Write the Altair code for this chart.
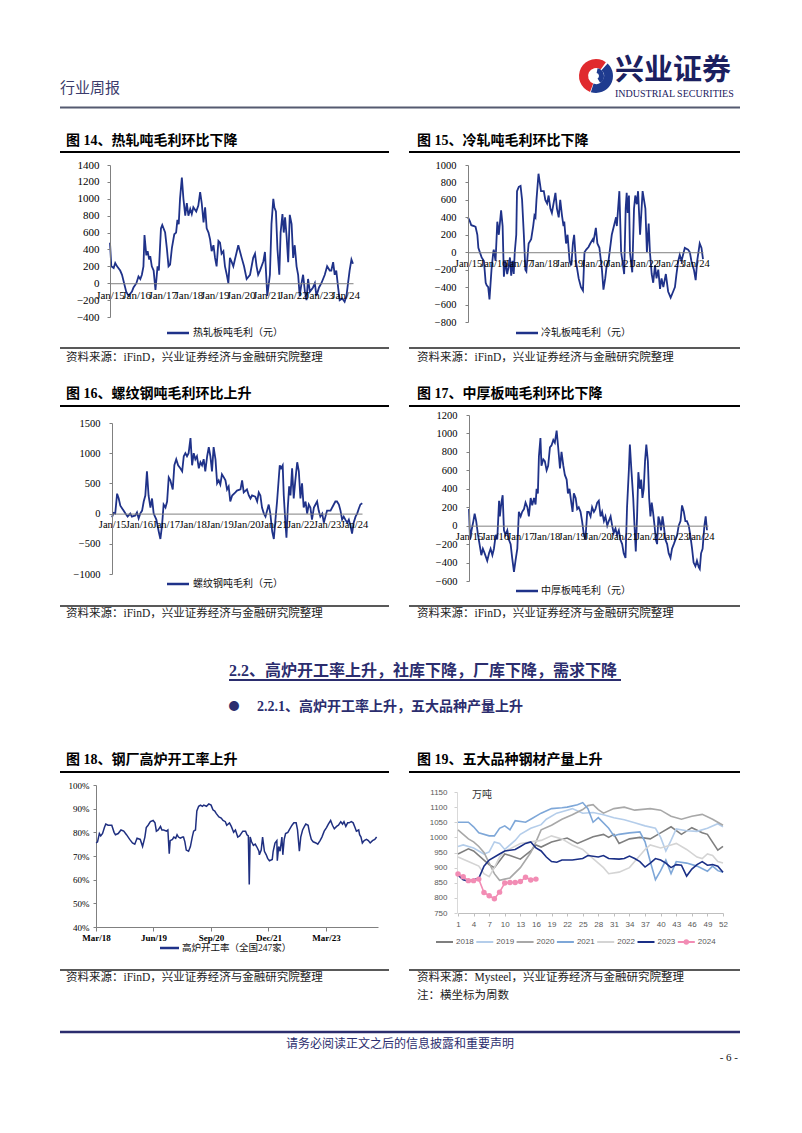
import altair as alt
import pandas as pd

# ---------------- data ----------------
hot_rolled = [(2015.00, 480), (2015.05, 200), (2015.14, 180), (2015.20, 240), (2015.27, 200), (2015.39, 150),
              (2015.46, 100), (2015.62, -100), (2015.71, -150), (2015.84, -100), (2015.90, -50), (2016.01, 0),
              (2016.09, 80), (2016.16, 50), (2016.22, 100), (2016.28, 200), (2016.32, 570), (2016.39, 330),
              (2016.44, 380), (2016.50, 280), (2016.54, 320), (2016.60, 200), (2016.67, 150), (2016.74, -80),
              (2016.82, 200), (2016.87, 150), (2016.95, 650), (2017.00, 690), (2017.11, 600), (2017.18, 400),
              (2017.24, 200), (2017.30, 220), (2017.37, 420), (2017.46, 580), (2017.53, 600), (2017.58, 750),
              (2017.63, 700), (2017.68, 1000), (2017.75, 1250), (2017.81, 1000), (2017.88, 800), (2017.94, 950),
              (2018.00, 800), (2018.07, 880), (2018.13, 820), (2018.19, 900), (2018.30, 850), (2018.38, 920),
              (2018.45, 1080), (2018.51, 950), (2018.58, 720), (2018.64, 900), (2018.70, 650), (2018.77, 600),
              (2018.83, 520), (2018.89, 380), (2018.96, 450), (2019.02, 300), (2019.08, 200), (2019.15, 500),
              (2019.21, 480), (2019.27, 350), (2019.34, 380), (2019.40, 200), (2019.47, 100), (2019.53, 0),
              (2019.59, 300), (2019.66, 250), (2019.72, 200), (2019.78, 280), (2019.91, 450), (2020.04, 300),
              (2020.13, 200), (2020.23, 50), (2020.36, 100), (2020.48, 300), (2020.55, 350), (2020.61, 200),
              (2020.67, 100), (2020.74, 150), (2020.87, 260), (2020.93, 370), (2021.02, -150), (2021.12, 100),
              (2021.18, 700), (2021.25, 1000), (2021.29, 900), (2021.35, 850), (2021.41, 400), (2021.48, 100),
              (2021.53, 600), (2021.60, 820), (2021.65, 600), (2021.70, 780), (2021.76, 550), (2021.82, 250),
              (2021.88, 810), (2021.95, 700), (2022.01, 300), (2022.07, 450), (2022.14, 200), (2022.20, 100),
              (2022.26, -150), (2022.33, 0), (2022.39, 100), (2022.46, -100), (2022.52, -200), (2022.58, 50),
              (2022.65, -100), (2022.77, -50), (2022.84, 0), (2022.90, -150), (2023.00, -50), (2023.09, 0),
              (2023.22, 100), (2023.31, 200), (2023.41, 150), (2023.47, 150), (2023.54, 250), (2023.60, 100),
              (2023.66, 150), (2023.73, -50), (2023.79, -200), (2023.89, -180), (2023.98, -220), (2024.05, -150),
              (2024.11, 0), (2024.17, 150), (2024.24, 280), (2024.30, 230)]

cold_rolled = [(2015.00, 400), (2015.08, 350), (2015.13, 310), (2015.24, 300), (2015.30, 290), (2015.37, 200),
               (2015.41, 50), (2015.47, 0), (2015.54, -60), (2015.63, -100), (2015.70, -350), (2015.74, -380),
               (2015.80, -400), (2015.85, -540), (2015.93, -200), (2016.00, 0), (2016.02, 30), (2016.09, -100),
               (2016.16, 350), (2016.22, 200), (2016.31, 480), (2016.37, 300), (2016.42, -280), (2016.48, -100),
               (2016.55, -250), (2016.62, -150), (2016.66, -60), (2016.71, -270), (2016.76, -100), (2016.81, -250),
               (2016.85, 0), (2016.91, 200), (2016.94, 700), (2017.01, 750), (2017.08, 760), (2017.14, 600),
               (2017.21, 200), (2017.27, -200), (2017.31, -220), (2017.37, 0), (2017.40, 100), (2017.50, 150),
               (2017.58, 300), (2017.63, 420), (2017.67, 400), (2017.71, 600), (2017.79, 900), (2017.84, 800),
               (2017.89, 700), (2018.00, 700), (2018.06, 600), (2018.13, 560), (2018.19, 650), (2018.26, 500),
               (2018.32, 450), (2018.46, 680), (2018.52, 500), (2018.59, 400), (2018.65, 600), (2018.72, 420),
               (2018.78, 300), (2018.81, 350), (2018.88, 100), (2018.94, 200), (2019.02, -100), (2019.09, -150),
               (2019.15, 100), (2019.20, 200), (2019.27, -100), (2019.38, -300), (2019.47, -400), (2019.55, -440),
               (2019.61, 0), (2019.68, 30), (2019.77, 60), (2019.84, 100), (2019.94, 150), (2019.97, 130),
               (2020.06, 280), (2020.12, 100), (2020.20, 50), (2020.30, -200), (2020.36, -430), (2020.43, -300),
               (2020.49, -150), (2020.56, -100), (2020.69, 200), (2020.86, 400), (2020.89, 300), (2020.99, 700),
               (2021.06, 0), (2021.11, -100), (2021.18, -250), (2021.24, 500), (2021.28, 680), (2021.32, 450),
               (2021.37, 650), (2021.41, 0), (2021.50, -230), (2021.57, 500), (2021.62, 650), (2021.68, 550),
               (2021.73, 700), (2021.81, 200), (2021.91, 700), (2022.02, 500), (2022.08, 0), (2022.15, 330),
               (2022.20, 0), (2022.27, -250), (2022.33, -350), (2022.40, -150), (2022.46, -300), (2022.53, -200),
               (2022.60, -420), (2022.66, -300), (2022.73, -400), (2022.83, -250), (2022.92, -450), (2023.02, -520),
               (2023.12, -450), (2023.19, -400), (2023.25, -250), (2023.32, -100), (2023.38, -30), (2023.45, -100),
               (2023.58, 50), (2023.71, 30), (2023.78, 0), (2023.84, -100), (2023.94, -200), (2024.01, -320),
               (2024.07, -100), (2024.17, 100), (2024.24, 50), (2024.30, -80)]

rebar = [(2015.00, -60), (2015.06, 10), (2015.12, 0), (2015.19, 330), (2015.25, 250), (2015.31, 130),
         (2015.43, 50), (2015.50, 0), (2015.58, -50), (2015.68, 0), (2015.74, -50), (2015.87, -30),
         (2015.93, 20), (2015.99, -80), (2016.05, 0), (2016.12, 50), (2016.18, 200), (2016.24, 300),
         (2016.30, 700), (2016.36, 300), (2016.43, 100), (2016.49, 250), (2016.55, 0), (2016.65, -100),
         (2016.74, -300), (2016.80, -420), (2016.86, -200), (2016.92, 150), (2016.99, 100), (2017.05, 200),
         (2017.11, 600), (2017.17, 550), (2017.26, 400), (2017.32, 800), (2017.39, 900), (2017.46, 800),
         (2017.54, 750), (2017.61, 700), (2017.67, 950), (2017.73, 1000), (2017.79, 950), (2017.85, 1000),
         (2017.92, 1250), (2017.98, 800), (2018.04, 1000), (2018.10, 900), (2018.16, 950), (2018.23, 750),
         (2018.29, 850), (2018.35, 800), (2018.41, 900), (2018.47, 700), (2018.54, 950), (2018.60, 1100),
         (2018.66, 950), (2018.72, 700), (2018.78, 1100), (2018.85, 900), (2018.91, 500), (2018.97, 550),
         (2019.03, 480), (2019.09, 650), (2019.16, 600), (2019.22, 550), (2019.28, 400), (2019.34, 450),
         (2019.40, 200), (2019.47, 300), (2019.59, 350), (2019.65, 380), (2019.78, 400), (2019.84, 550),
         (2019.90, 350), (2020.02, 400), (2020.09, 300), (2020.15, 250), (2020.21, 300), (2020.33, 280),
         (2020.40, 200), (2020.46, 350), (2020.52, 300), (2020.58, 100), (2020.65, 0), (2020.71, -50),
         (2020.77, 50), (2020.83, 150), (2020.89, 0), (2020.96, -300), (2021.02, -420), (2021.08, -100),
         (2021.14, 200), (2021.24, 800), (2021.29, 750), (2021.35, 800), (2021.39, 300), (2021.45, -150),
         (2021.49, -400), (2021.54, 100), (2021.59, 450), (2021.64, 300), (2021.70, 750), (2021.76, 250),
         (2021.82, 550), (2021.89, 850), (2021.95, 700), (2022.01, 250), (2022.07, 500), (2022.13, 100),
         (2022.20, 200), (2022.26, 0), (2022.32, 150), (2022.38, 100), (2022.44, -100), (2022.51, 100),
         (2022.57, 150), (2022.63, 200), (2022.69, 50), (2022.75, -50), (2022.82, 0), (2022.88, -150),
         (2022.94, -50), (2023.00, 50), (2023.13, 50), (2023.25, 150), (2023.31, 200), (2023.37, 200),
         (2023.44, 150), (2023.50, 50), (2023.56, -100), (2023.62, -50), (2023.68, -100), (2023.75, -150),
         (2023.81, -100), (2023.87, -200), (2023.93, -330), (2023.99, -150), (2024.06, -50), (2024.12, 0),
         (2024.18, 80), (2024.24, 150), (2024.31, 170)]

plate = [(2015.00, 180), (2015.04, -150), (2015.10, -50), (2015.17, 50), (2015.22, 130), (2015.28, 50),
         (2015.35, -100), (2015.41, -200), (2015.48, -320), (2015.54, -250), (2015.61, -300), (2015.71, -380),
         (2015.78, -300), (2015.84, -250), (2015.91, -320), (2015.97, -250), (2016.04, -100), (2016.10, -150),
         (2016.17, 270), (2016.20, 100), (2016.26, 250), (2016.31, 330), (2016.36, -50), (2016.42, -100),
         (2016.49, -50), (2016.55, -150), (2016.62, -200), (2016.68, -350), (2016.75, -500), (2016.81, -380),
         (2016.88, -250), (2016.94, 150), (2017.01, 100), (2017.07, 150), (2017.14, 180), (2017.20, 250),
         (2017.27, 200), (2017.33, 100), (2017.40, 300), (2017.46, 220), (2017.53, 300), (2017.59, 230),
         (2017.63, 400), (2017.68, 350), (2017.72, 750), (2017.78, 950), (2017.82, 650), (2017.89, 720),
         (2017.95, 700), (2018.02, 600), (2018.08, 650), (2018.15, 850), (2018.21, 870), (2018.28, 930),
         (2018.34, 900), (2018.41, 1030), (2018.47, 850), (2018.54, 620), (2018.60, 800), (2018.67, 650),
         (2018.73, 550), (2018.80, 500), (2018.85, 350), (2018.91, 400), (2018.98, 250), (2019.03, 150),
         (2019.08, 350), (2019.15, 300), (2019.21, 180), (2019.27, 200), (2019.34, 150), (2019.40, 50),
         (2019.47, -100), (2019.53, -150), (2019.60, 150), (2019.66, 150), (2019.73, 100), (2019.79, 200),
         (2019.86, 150), (2019.92, 180), (2019.99, 250), (2020.05, 270), (2020.12, 100), (2020.18, 150),
         (2020.25, 50), (2020.31, 100), (2020.38, 0), (2020.44, 50), (2020.51, 100), (2020.57, 0),
         (2020.63, -80), (2020.70, -30), (2020.76, -100), (2020.83, -50), (2020.89, -150), (2020.96, -200),
         (2021.02, -300), (2021.09, -350), (2021.15, 200), (2021.22, 600), (2021.26, 880), (2021.32, 600),
         (2021.39, 300), (2021.44, 0), (2021.49, -280), (2021.54, 100), (2021.59, 580), (2021.65, 400),
         (2021.70, 500), (2021.75, 300), (2021.80, 400), (2021.85, 700), (2021.90, 880), (2021.96, 700),
         (2022.01, 300), (2022.06, 100), (2022.11, 250), (2022.16, 150), (2022.22, 0), (2022.27, -150),
         (2022.32, -200), (2022.37, 100), (2022.42, 50), (2022.47, -50), (2022.53, 100), (2022.58, 0),
         (2022.64, -150), (2022.71, -200), (2022.77, -300), (2022.84, -350), (2022.90, -250), (2022.97, -200),
         (2023.10, -100), (2023.16, 0), (2023.23, 50), (2023.29, 220), (2023.36, 150), (2023.42, 50),
         (2023.48, 50), (2023.55, 0), (2023.61, -100), (2023.68, -250), (2023.74, -400), (2023.81, -440),
         (2023.87, -380), (2023.94, -450), (2023.98, -470), (2024.03, -300), (2024.09, -250), (2024.16, 0),
         (2024.21, 100), (2024.26, -50)]

furnace = [(2018.17, 75.5), (2018.20, 76), (2018.24, 79.5), (2018.27, 78.5), (2018.31, 79.5), (2018.35, 82),
           (2018.38, 83.5), (2018.43, 83), (2018.51, 83), (2018.56, 80), (2018.59, 79), (2018.65, 79.5),
           (2018.71, 81), (2018.77, 80.5), (2018.83, 79), (2018.90, 77), (2018.96, 75.5), (2019.01, 75),
           (2019.06, 77.5), (2019.13, 77), (2019.18, 74), (2019.23, 78), (2019.26, 82), (2019.30, 83),
           (2019.35, 84.5), (2019.41, 85), (2019.45, 84), (2019.48, 80.5), (2019.52, 81), (2019.57, 82.5),
           (2019.60, 81), (2019.64, 81), (2019.70, 80.5), (2019.73, 81), (2019.76, 71), (2019.78, 76.5),
           (2019.83, 77), (2019.86, 78), (2019.90, 77.5), (2019.93, 79), (2019.96, 78), (2020.00, 77.5),
           (2020.05, 78), (2020.07, 78), (2020.10, 76), (2020.13, 72.5), (2020.18, 72), (2020.22, 74),
           (2020.26, 78), (2020.29, 80.5), (2020.33, 81), (2020.36, 89), (2020.40, 91), (2020.44, 91.5),
           (2020.48, 91), (2020.51, 91.5), (2020.57, 91), (2020.62, 92), (2020.67, 91.5), (2020.71, 89.5),
           (2020.75, 89), (2020.78, 88), (2020.84, 86.5), (2020.89, 86), (2020.93, 85), (2020.98, 84.5),
           (2021.01, 83), (2021.07, 84), (2021.11, 82.5), (2021.16, 80), (2021.20, 81), (2021.25, 78),
           (2021.29, 78.5), (2021.36, 80.5), (2021.42, 80.5), (2021.45, 79), (2021.48, 78.5), (2021.50, 58),
           (2021.52, 78), (2021.55, 76), (2021.59, 74.5), (2021.63, 75), (2021.66, 74), (2021.71, 72),
           (2021.72, 70.5), (2021.76, 72.5), (2021.79, 78), (2021.83, 72), (2021.87, 70.5), (2021.90, 69),
           (2021.94, 68), (2022.00, 68.5), (2022.02, 72), (2022.06, 75.5), (2022.10, 76.5), (2022.11, 68),
           (2022.14, 74), (2022.17, 72), (2022.21, 78), (2022.23, 70.5), (2022.26, 77), (2022.29, 79.5),
           (2022.34, 80), (2022.37, 81), (2022.43, 83), (2022.47, 84), (2022.52, 84), (2022.55, 81),
           (2022.59, 72), (2022.62, 78), (2022.66, 81), (2022.70, 82.5), (2022.73, 83.5), (2022.78, 83),
           (2022.81, 80), (2022.85, 77), (2022.89, 76), (2022.95, 75.5), (2022.99, 75), (2023.04, 76.5),
           (2023.08, 78), (2023.13, 80.5), (2023.18, 82), (2023.22, 83.5), (2023.27, 85), (2023.31, 83),
           (2023.35, 81.5), (2023.40, 82.5), (2023.44, 83), (2023.49, 84.5), (2023.53, 83.5), (2023.56, 84.5),
           (2023.60, 82.5), (2023.64, 84), (2023.67, 84), (2023.72, 84.5), (2023.76, 84), (2023.80, 82),
           (2023.83, 80.5), (2023.88, 81), (2023.90, 79), (2023.93, 78), (2023.96, 75.5), (2024.00, 76.5),
           (2024.05, 77), (2024.09, 76.5), (2024.13, 75.5), (2024.18, 76.5), (2024.23, 77), (2024.27, 78)]

w2018 = [(1, 945), (3, 962), (4, 955), (6, 925), (7, 910), (8, 900), (10, 945), (11, 940), (13, 928), (15, 955),
         (16, 975), (17, 968), (19, 985), (22, 998), (24, 980), (27, 1002), (29, 1010), (30, 1000), (31, 1010),
         (32, 980), (34, 995), (36, 1000), (38, 995), (40, 1015), (42, 1035), (44, 1010), (46, 1032), (48, 1015),
         (49, 1010), (51, 958), (52, 970)]
w2019 = [(1, 970), (2, 975), (4, 965), (6, 945), (7, 952), (8, 985), (9, 980), (10, 960), (12, 990), (13, 1010),
         (15, 1030), (17, 1042), (18, 1060), (20, 1080), (22, 1090), (23, 1095), (25, 1080), (27, 1082), (29, 1075),
         (31, 1065), (33, 1058), (35, 1048), (37, 1038), (39, 1030), (40, 1000), (41, 955), (42, 990), (43, 1028),
         (45, 1022), (47, 1020), (49, 1030), (51, 1045), (52, 1035)]
w2020 = [(1, 1025), (3, 995), (4, 985), (5, 970), (6, 950), (7, 915), (8, 880), (9, 858), (10, 862), (11, 866),
         (13, 900), (15, 950), (16, 985), (17, 1025), (19, 1040), (21, 1060), (23, 1075), (25, 1092), (26, 1105),
         (27, 1108), (28, 1092), (29, 1080), (31, 1095), (33, 1100), (35, 1090), (38, 1095), (40, 1090), (42, 1070),
         (44, 1060), (46, 1070), (48, 1076), (50, 1060), (52, 1040)]
w2021 = [(1, 1050), (3, 1050), (4, 1035), (5, 1015), (7, 1005), (8, 1005), (9, 1030), (10, 1038), (11, 1025),
         (12, 1055), (14, 1050), (15, 1060), (17, 1080), (19, 1095), (21, 1098), (22, 1100), (24, 1108), (25, 1115),
         (26, 1095), (27, 1050), (28, 1065), (30, 1030), (31, 1005), (32, 1010), (34, 1015), (36, 1018), (37, 985),
         (38, 920), (39, 860), (40, 890), (41, 925), (42, 880), (43, 920), (45, 915), (47, 905), (49, 888),
         (50, 905), (51, 890), (52, 885)]
w2022 = [(1, 935), (3, 920), (5, 905), (6, 880), (7, 870), (8, 900), (9, 935), (10, 955), (11, 962), (13, 980),
         (15, 985), (17, 990), (19, 1005), (21, 995), (23, 975), (25, 960), (27, 930), (29, 900), (30, 880),
         (32, 885), (34, 900), (35, 920), (37, 960), (38, 975), (40, 965), (42, 975), (43, 980), (45, 960),
         (47, 935), (48, 930), (49, 945), (50, 940), (51, 920), (52, 915)]
w2023 = [(1, 875), (2, 860), (3, 855), (5, 865), (6, 905), (7, 925), (9, 945), (10, 955), (12, 960), (13, 970),
         (14, 980), (15, 985), (16, 965), (17, 955), (18, 935), (19, 920), (20, 918), (21, 925), (23, 925),
         (25, 930), (26, 940), (28, 935), (29, 940), (30, 930), (32, 928), (33, 930), (34, 938), (35, 930),
         (36, 920), (37, 902), (38, 915), (39, 930), (40, 925), (41, 915), (42, 900), (43, 910), (44, 908),
         (45, 872), (46, 895), (47, 910), (48, 920), (49, 908), (50, 910), (51, 905), (52, 885)]
w2024 = [(1, 879), (2, 870), (3, 857), (4, 857), (5, 862), (6, 818), (7, 807), (8, 797), (9, 819), (10, 849),
         (11, 851), (12, 851), (13, 854), (14, 868), (15, 859), (16, 862)]

years = ['2018', '2019', '2020', '2021', '2022', '2023', '2024']
year_series = [w2018, w2019, w2020, w2021, w2022, w2023, w2024]
year_colors = ['#7f7f7f', '#b4cdea', '#a8a8a8', '#7ea7d8', '#d4d4d4', '#1a2f86', '#f28cb4']
year_widths = [1.6, 1.6, 1.6, 1.6, 1.6, 2.0, 1.6]

profit_ticks = list(range(2015, 2025))
bf_tick_vals = [2018.167, 2019.417, 2020.667, 2021.917, 2023.167]
bf_tick_labels = ['Mar/18', 'Jun/19', 'Sep/20', 'Dec/21', 'Mar/23']
week_ticks = list(range(1, 53, 3))

# ---------------- style ----------------
SERIF = 'Liberation Serif'
SANS = 'Liberation Sans'
CJK = 'Noto Sans CJK SC'
MIX = "'Liberation Serif', 'Noto Sans CJK SC'"
NAVY = '#1f3289'
DEEP = '#2b2d6e'
AXC = '#808080'
one = pd.DataFrame({'d': [0]})

# origin of the first cell (page coordinates) for page decorations
OX, OY = 96, 165


def T(text, x, y, size, weight='normal', color='#111111', align='left', font=MIX):
    return alt.Chart(one).mark_text(text=text, align=align, baseline='middle', fontSize=size,
                                    fontWeight=weight, color=color, font=font).encode(
        x=alt.value(x - OX), y=alt.value(y - OY))


def R(x1, x2, y, color, w):
    return alt.Chart(one).mark_rule(color=color, strokeWidth=w).encode(
        x=alt.value(x1 - OX), x2=alt.value(x2 - OX), y=alt.value(y - OY))


def profit_chart(pairs, xr, yr, ydom, ystep, w, h, fs, lpad):
    df = pd.DataFrame(pairs, columns=['t', 'v'])
    zero_px = yr[0] + (0 - ydom[0]) / (ydom[1] - ydom[0]) * (yr[1] - yr[0])
    xaxis = alt.Axis(values=profit_ticks, labelExpr="'Jan/' + (datum.value - 2000)", offset=zero_px - h,
                     domainColor=AXC, domainWidth=1, ticks=False, labelFlush=False, labelOverlap=False,
                     labelPadding=6, labelFont=SERIF, labelFontSize=fs, labelColor='#000', grid=False,
                     title=None, zindex=1)
    yaxis = alt.Axis(values=list(range(ydom[0], ydom[1] + 1, ystep)), format='d', offset=-xr[0],
                     domainColor=AXC, domainWidth=1, tickColor=AXC, tickSize=3, labelPadding=lpad,
                     labelFont=SERIF, labelFontSize=fs, labelColor='#000', labelFlush=False,
                     labelOverlap=False, grid=False, title=None, zindex=1)
    return alt.Chart(df).mark_line(color=NAVY, strokeWidth=1.8).encode(
        x=alt.X('t:Q', scale=alt.Scale(domain=[2015, 2024.3], range=xr, nice=False, zero=False), axis=xaxis),
        y=alt.Y('v:Q', scale=alt.Scale(domain=list(ydom), range=yr, nice=False, zero=False), axis=yaxis))


SRC = '资料来源：iFinD，兴业证券经济与金融研究院整理'

deco = [
    alt.Chart(one).mark_rect(color='white').encode(
        x=alt.value(8 - OX), x2=alt.value(790 - OX), y=alt.value(8 - OY), y2=alt.value(1120 - OY)),
    # header
    T('行业周报', 60, 88, 15, color='#3b3b6b', font=CJK),
    alt.Chart(one).mark_arc(theta=3.5, theta2=6.9, radius=17, radius2=8, color='#e02a2e').encode(
        x=alt.value(596 - OX), y=alt.value(76 - OY)),
    alt.Chart(one).mark_arc(theta=0.75, theta2=3.45, radius=17, radius2=8, color='#1f3b8f').encode(
        x=alt.value(596 - OX), y=alt.value(76 - OY)),
    alt.Chart(one).mark_arc(theta=0.2, theta2=2.6, radius=8, radius2=3, color='#1f3b8f').encode(
        x=alt.value(596 - OX), y=alt.value(76 - OY)),
    T('兴业证券', 615, 71, 29, weight='bold', color='#1b2060', font=CJK),
    T('INDUSTRIAL SECURITIES', 615, 94, 10, color='#1b2060', font=SERIF),
    R(60, 740, 107.5, '#555a70', 2),
    # row 1
    T('图 14、热轧吨毛利环比下降', 66, 141, 14, weight='bold', color='#000'),
    T('图 15、冷轧吨毛利环比下降', 417, 141, 14, weight='bold', color='#000'),
    R(60, 389, 152, '#000', 2), R(409, 740, 152, '#000', 2),
    R(167, 189, 333, NAVY, 2.5), T('热轧板吨毛利（元）', 193, 333, 10),
    R(516, 538, 333, NAVY, 2.5), T('冷轧板吨毛利（元）', 541, 333, 10),
    R(60, 389, 348, '#222', 1.5), R(409, 740, 348, '#222', 1.5),
    T(SRC, 66, 358, 11.5, color='#222'), T(SRC, 417, 358, 11.5, color='#222'),
    # row 2
    T('图 16、螺纹钢吨毛利环比上升', 66, 394, 14, weight='bold', color='#000'),
    T('图 17、中厚板吨毛利环比下降', 417, 394, 14, weight='bold', color='#000'),
    R(60, 389, 406, '#000', 2), R(409, 740, 406, '#000', 2),
    R(167, 189, 584, NAVY, 2.5), T('螺纹钢吨毛利（元）', 193, 584, 10),
    R(516, 538, 591, NAVY, 2.5), T('中厚板吨毛利（元）', 541, 591, 10),
    R(60, 389, 606, '#222', 1.5), R(409, 740, 606, '#222', 1.5),
    T(SRC, 66, 614, 11.5, color='#222'), T(SRC, 417, 614, 11.5, color='#222'),
    # section
    T('2.2、高炉开工率上升，社库下降，厂库下降，需求下降', 229, 671, 16, weight='bold', color=DEEP),
    R(229, 621, 680, DEEP, 2),
    T('●', 234, 707, 11, color=DEEP, align='center', font=CJK),
    T('2.2.1、高炉开工率上升，五大品种产量上升', 257, 707, 14, weight='bold', color=DEEP),
    # row 3
    T('图 18、钢厂高炉开工率上升', 66, 760, 14, weight='bold', color='#000'),
    T('图 19、五大品种钢材产量上升', 417, 760, 14, weight='bold', color='#000'),
    R(60, 389, 772, '#000', 2), R(409, 740, 772, '#000', 2),
    R(160, 179, 948, NAVY, 2.5), T('高炉开工率（全国247家）', 182, 948, 9.5),
    T('万吨', 472, 795, 10, color='#333', font=CJK),
    R(60, 389, 970, '#222', 1.5), R(409, 740, 970, '#222', 1.5),
    T(SRC, 66, 978, 11.5, color='#222'),
    T('资料来源：Mysteel，兴业证券经济与金融研究院整理', 417, 978, 11.5, color='#222'),
    T('注：横坐标为周数', 417, 996, 11.5, color='#222'),
    # footer
    R(60, 740, 1032, DEEP, 2.5),
    T('请务必阅读正文之后的信息披露和重要声明', 400, 1044, 12, color=DEEP, align='center', font=CJK),
    T('- 6 -', 738, 1058, 11, align='right', font=SERIF),
]

# fig 19 legend
for i, (yr, col) in enumerate(zip(years, year_colors)):
    sx = 456 + 40.3 * i
    deco.append(R(sx - 20, sx - 3, 942, col, 2))
    deco.append(T(yr, sx, 942, 8, color='#595959', font=SANS))
    if yr == '2024':
        deco.append(alt.Chart(one).mark_point(filled=True, size=30, color=col, opacity=1).encode(
            x=alt.value(sx - 11.5 - OX), y=alt.value(942 - OY)))

# ---------------- cells ----------------
c14 = alt.layer(deco[0], profit_chart(hot_rolled, [14, 257], [152, 0], (-400, 1400), 200, 282, 157, 11, 8),
                *deco[1:]).properties(width=282, height=157)
c15 = profit_chart(cold_rolled, [11, 246], [157, 0], (-800, 1000), 200, 266, 157, 10.5, 9).properties(
    width=266, height=157)
c16 = profit_chart(rebar, [16, 266], [159, 8], (-1000, 1500), 500, 282, 277, 10.5, 9).properties(
    width=282, height=277)
c17 = profit_chart(plate, [12, 251], [166, 0], (-600, 1200), 200, 266, 277, 10.5, 9).properties(
    width=266, height=277)

bf_expr = ''.join("abs(datum.value - %s) < 0.01 ? '%s' : " % (v, l) for v, l in zip(bf_tick_vals, bf_tick_labels)) + "''"
c18 = alt.Chart(pd.DataFrame(furnace, columns=['t', 'v'])).mark_line(color='#1f2f80', strokeWidth=1.5).encode(
    x=alt.X('t:Q', scale=alt.Scale(domain=[2018.167, 2024.3], nice=False, zero=False),
            axis=alt.Axis(values=bf_tick_vals, labelExpr=bf_expr, tickSize=4, tickColor=AXC, domainColor=AXC,
                          labelFont=SERIF, labelFontSize=9, labelFontWeight='bold', labelPadding=2,
                          labelFlush=False, labelOverlap=False, labelColor='#000', grid=False, title=None)),
    y=alt.Y('v:Q', scale=alt.Scale(domain=[40, 100], nice=False, zero=False),
            axis=alt.Axis(values=list(range(40, 101, 10)), labelExpr="datum.value + '%'", tickSize=3,
                          tickColor=AXC, domainColor=AXC, labelPadding=4, labelFont=SERIF, labelFontSize=9,
                          labelColor='#000', labelFlush=False, grid=False, title=None))
).properties(width=282, height=142)

rows19 = []
for yr, pts in zip(years, year_series):
    for wk, val in pts:
        rows19.append({'year': yr, 'w': wk, 'v': val})
df19 = pd.DataFrame(rows19)
x19 = alt.X('w:Q', scale=alt.Scale(domain=[1, 52], range=[1, 266], nice=False, zero=False),
            axis=alt.Axis(values=week_ticks, tickSize=3, tickColor='#bfbfbf', domainColor='#bfbfbf',
                          labelFont=SANS, labelFontSize=8, labelColor='#595959', labelPadding=4,
                          labelFlush=False, labelOverlap=False, grid=False, title=None))
y19 = alt.Y('v:Q', scale=alt.Scale(domain=[750, 1150], range=[128, 7], nice=False, zero=False),
            axis=alt.Axis(values=list(range(750, 1151, 50)), format='d', tickSize=3, tickColor='#d0d0d0',
                          domainColor='#d9d9d9', labelFont=SANS, labelFontSize=8, labelColor='#595959',
                          labelPadding=7, labelFlush=False, labelOverlap=False, grid=False, title=None))
lines19 = alt.Chart(df19).transform_filter("datum.year != '2024'").mark_line().encode(
    x=x19, y=y19,
    color=alt.Color('year:N', scale=alt.Scale(domain=years, range=year_colors), legend=None),
    strokeWidth=alt.StrokeWidth('year:N', scale=alt.Scale(domain=years, range=year_widths), legend=None))
pink19 = alt.Chart(df19).transform_filter("datum.year == '2024'").mark_line(
    color=year_colors[-1], strokeWidth=1.6,
    point=alt.OverlayMarkDef(filled=True, size=30, color=year_colors[-1])).encode(x=x19, y=y19)
c19 = alt.layer(lines19, pink19).properties(width=266, height=128)

chart = alt.concat(c14, c15, c16, c17, c18, c19, columns=2, bounds='flush',
                   spacing={'row': 93, 'column': 79}).properties(padding=0).configure_view(strokeWidth=0)

chart.save('out.html', embed_options={'renderer': 'svg', 'actions': False})
